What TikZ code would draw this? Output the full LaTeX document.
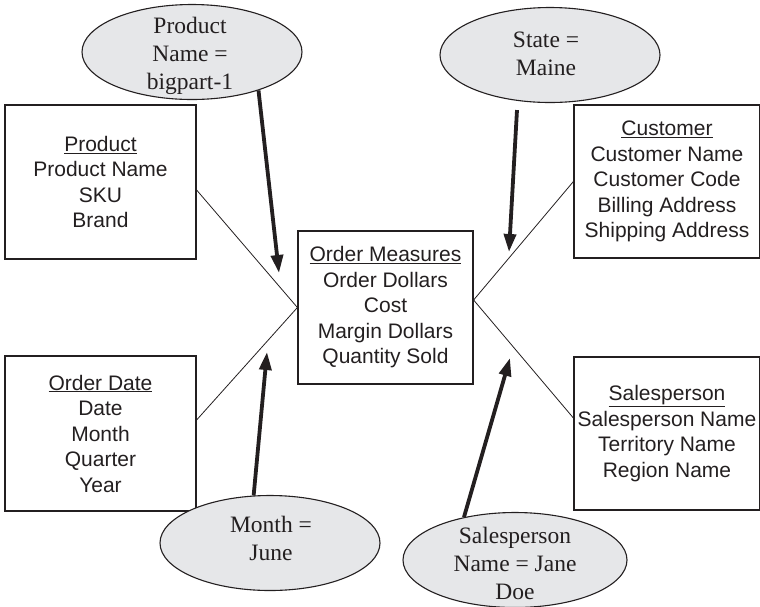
\documentclass[tikz,border=0pt]{standalone}
\usepackage{fontspec}
\setmainfont{Liberation Serif}
\setsansfont{Liberation Sans}
\usetikzlibrary{shapes.geometric,arrows.meta}
\definecolor{ellfill}{RGB}{230,231,233}
\definecolor{ink}{RGB}{35,31,32}

\begin{document}
\begin{tikzpicture}[x=1pt,y=-1pt,
    dim/.style={draw=ink,line width=1.2pt,inner sep=0pt,align=center,text=ink,
      font=\sffamily\fontsize{21}{25.5}\selectfont},
    filt/.style={ellipse,draw=ink,line width=1.1pt,fill=ellfill,inner sep=0pt,
      minimum width=220pt,minimum height=95pt},
    filttext/.style={align=center,text=ink,font=\fontsize{23.5}{28}\selectfont},
    link/.style={draw=ink,line width=0.8pt},
    pick/.style={draw=ink,line width=3.8pt,-{Triangle[length=18pt,width=12pt]}}]
        \useasboundingbox (0,0) rectangle (760,606);
        % Fact table in the middle
        \node[dim,minimum width=175pt,minimum height=153pt] (measures) at (385.5,307.5)
            {\underline{Order Measures}\\Order Dollars\\Cost\\Margin Dollars\\Quantity Sold};
        % Dimensions
        \node[dim,minimum width=191pt,minimum height=154pt] (product) at (100.5,182)
            {\underline{Product}\\Product Name\\SKU\\Brand};
        \node[dim,minimum width=191pt,minimum height=155pt] (orderdate) at (100.5,433.5)
            {\underline{Order Date}\\Date\\Month\\Quarter\\Year};
        \node[dim,minimum width=186pt,minimum height=153pt] (customer) at (667,181.5)
            {\underline{Customer}\\Customer Name\\Customer Code\\Billing Address\\Shipping Address};
        \node[dim,minimum width=186pt,minimum height=153pt] (salesperson) at (667,433.5)
            {\underline{Salesperson}\\Salesperson Name\\Territory Name\\Region Name};
        % Star lines
        \draw[link] ([yshift=-8pt]product.east) -- (measures.west);
        \draw[link] ([yshift=13.5pt]orderdate.east) -- (measures.west);
        \draw[link] (customer.west) -- ([yshift=7.5pt]measures.east);
        \draw[link] ([yshift=15.5pt]salesperson.west) -- ([yshift=7.5pt]measures.east);
        % Filters
        \node[filt] (pname) at (192,52) {};
        \node[filttext] (pnameText) at (190,56) {Product\\Name =\\bigpart-1};
        \node[filt] (state) at (550,55) {};
        \node[filttext] (stateText) at (546,54) {State =\\Maine};
        \node[filt] (month) at (270,543) {};
        \node[filttext] (monthText) at (271,538) {Month =\\June};
        \node[filt,minimum width=224pt] (rep) at (515,560) {};
        \node[filttext] (repText) at (515,563) {Salesperson\\Name = Jane\\Doe};
        % Filter arrows
        \coordinate (pnameTip) at (279,273);
        \coordinate (stateTip) at (509,252);
        \coordinate (monthTip) at (267,352);
        \coordinate (repTip) at (510,358);
        \draw[pick] (pname.-30) -- (pnameTip);
        \draw[pick] ([xshift=-33pt,yshift=-7pt]state.south) -- (stateTip);
        \draw[pick] (month.109) -- (monthTip);
        \draw[pick] (rep.140) -- (repTip);
    \end{tikzpicture}
\end{document}
